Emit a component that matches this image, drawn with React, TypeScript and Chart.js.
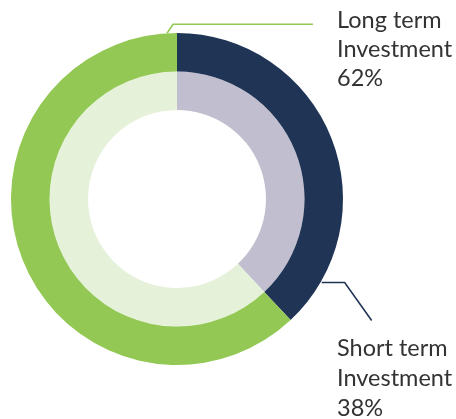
import React, { useEffect, useRef } from "react";
import { Chart, registerables } from "chart.js";

Chart.register(...registerables);

const categories = ["Short term Investment", "Long term Investment"];
const outerValues = [38, 62];
const innerValues = [38, 62];
const labelLines = [
  ["Short term", "Investment", "38%"],
  ["Long term", "Investment", "62%"],
];
const outerColors = ["#203456", "#92C853"];
const innerColors = ["#C1BFCF", "#E6F1D9"];

const FONT = "23.5px Lato, 'Open Sans', sans-serif";

const leaderPlugin = {
  id: "leaders",
  afterDraw(chart: any) {
    const ctx = chart.ctx;
    const meta = chart.getDatasetMeta(0);
    const arc0 = meta.data[0] as any;
    const { x: cx, y: cy, outerRadius: r, startAngle, endAngle } = arc0.getProps(
      ["x", "y", "outerRadius", "startAngle", "endAngle"],
      true
    );
    ctx.save();
    ctx.lineWidth = 1.6;

    // Long term leader (starts near top of green arc)
    const aL = startAngle - 0.06;
    const lx0 = cx + Math.cos(aL) * r;
    const ly0 = cy + Math.sin(aL) * r;
    ctx.strokeStyle = outerColors[1];
    ctx.beginPath();
    ctx.moveTo(lx0, ly0);
    ctx.lineTo(lx0 + 6, ly0 - 9);
    ctx.lineTo(lx0 + 146, ly0 - 9);
    ctx.stroke();

    // Short term leader (starts near end of navy arc)
    const aS = startAngle + (endAngle - startAngle) * 0.877;
    const sx0 = cx + Math.cos(aS) * (r + 1);
    const sy0 = cy + Math.sin(aS) * (r + 1);
    ctx.strokeStyle = outerColors[0];
    ctx.beginPath();
    ctx.moveTo(sx0, sy0);
    ctx.lineTo(sx0 + 23, sy0);
    ctx.lineTo(sx0 + 50, sy0 + 38);
    ctx.stroke();

    ctx.fillStyle = "#333333";
    ctx.font = FONT;
    ctx.textBaseline = "alphabetic";
    ctx.textAlign = "left";
    labelLines[1].forEach((t, i) => ctx.fillText(t, 337, 28 + i * 29));
    labelLines[0].forEach((t, i) => ctx.fillText(t, 337, 356 + i * 30));
    ctx.restore();
  },
};

export default function App() {
  const ref = useRef<HTMLCanvasElement>(null);
  useEffect(() => {
    if (!ref.current) return;
    const chart = new Chart(ref.current, {
      type: "doughnut",
      data: {
        labels: categories,
        datasets: [
          { data: outerValues, backgroundColor: outerColors, borderWidth: 0 },
          { data: innerValues, backgroundColor: innerColors, borderWidth: 0 },
        ],
      },
      options: {
        responsive: false,
        animation: false,
        cutout: "53.6%",
        layout: { padding: { left: 11, right: 113, top: 33, bottom: 54 } },
        plugins: {
          legend: { display: false },
          tooltip: { enabled: false },
          title: { display: false },
        },
      },
      plugins: [leaderPlugin],
    });
    return () => chart.destroy();
  }, []);
  return (
    <div style={{ position: "absolute", left: 0, top: 0, width: 456, height: 419, background: "#fff" }}>
      <canvas ref={ref} width={456} height={419} />
    </div>
  );
}
